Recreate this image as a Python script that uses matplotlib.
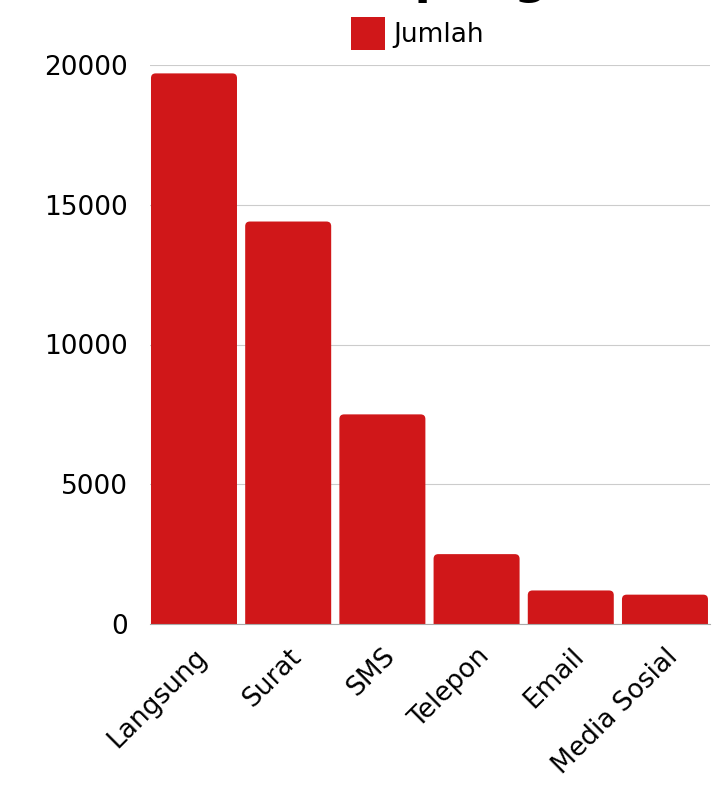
import matplotlib.pyplot as plt
from matplotlib.patches import FancyBboxPatch, Rectangle

kategori = ['Langsung', 'Surat', 'SMS', 'Telepon', 'Email', 'Media Sosial']
jumlah = [19700, 14400, 7500, 2500, 1200, 1050]
yticks = [0, 5000, 10000, 15000, 20000]

merah = '#d01719'
plt.rcParams['font.family'] = ['DejaVu Sans']

fig = plt.figure(figsize=(7.23, 7.87), dpi=100)
ax = fig.add_axes([150 / 723, 1 - 624 / 787, 560 / 723, 559 / 787])

bars = ax.bar(range(len(kategori)), jumlah, width=0.913, color=merah)
# ganti bar biasa dengan sudut atas membulat
for b in bars:
    x, w, h = b.get_x(), b.get_width(), b.get_height()
    b.set_visible(False)
    p = FancyBboxPatch((x, -400), w, h + 400,
                       boxstyle='round,pad=0,rounding_size=0.05',
                       mutation_aspect=3340, facecolor=merah,
                       edgecolor='none', zorder=3)
    ax.add_patch(p)

ax.set_xlim(-0.467, 5.478)
ax.set_ylim(0, 20000)
ax.set_yticks(yticks)
ax.set_yticklabels([str(v) for v in yticks], fontsize=19)
ax.set_xticks(range(len(kategori)))
ax.set_xticklabels(kategori, rotation=45, ha='right', rotation_mode='anchor', fontsize=19)
ax.tick_params(length=0)
ax.tick_params(axis='y', pad=16)
ax.tick_params(axis='x', pad=14)
ax.grid(axis='y', color='#cccccc', linewidth=0.8, zorder=0)
for s in ['top', 'right', 'left']:
    ax.spines[s].set_visible(False)
ax.spines['bottom'].set_color('#aaaaaa')
ax.spines['bottom'].set_zorder(4)

# legenda
fig.patches.append(Rectangle((351 / 723, 1 - 50 / 787), 34 / 723, 33 / 787,
                             transform=fig.transFigure, facecolor=merah,
                             edgecolor='none'))
fig.text(393 / 723, 1 - 35 / 787, 'Jumlah', fontsize=19, va='center', ha='left')

# judul (terpotong di atas)
fig.text(0.626, 1 + 7 / 787, 'Saluran pengaduan', fontsize=34, fontweight='bold',
         ha='center', va='baseline')

fig.savefig('out.png', dpi=100)
